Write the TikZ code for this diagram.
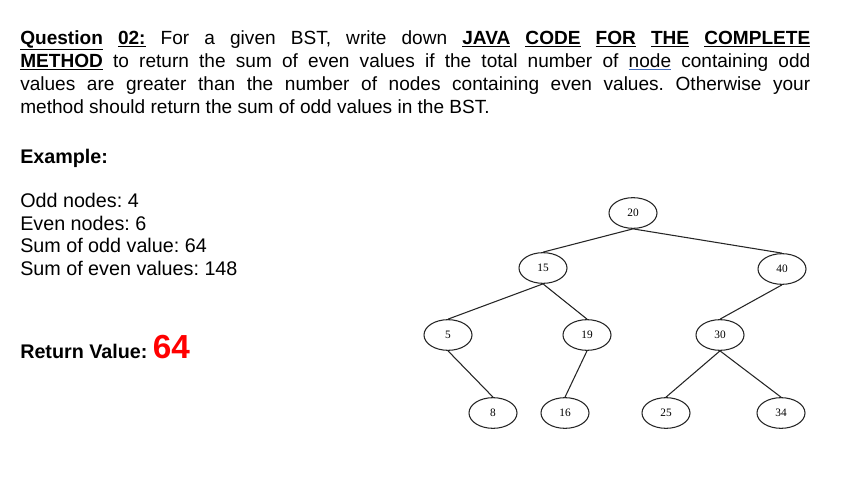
\documentclass[tikz,border=0pt]{standalone}
\usepackage{fontspec}
\setmainfont{Liberation Sans}
\newfontfamily\treefont{Liberation Serif}
\usetikzlibrary{shapes.geometric}
\definecolor{ulblue}{RGB}{70,110,190}
\frenchspacing
\begin{document}
\begin{tikzpicture}[x=0.75pt,y=-0.75pt,
  bst/.style={draw,ellipse,minimum width=36pt,minimum height=23pt,inner sep=0pt,font=\treefont\fontsize{8.5}{9}\selectfont,line width=0.8pt,draw=black!85},
  edge/.style={line width=0.8pt,draw=black!85},
  txt/.style={anchor=base west,inner sep=0pt,font=\fontsize{14.8}{16}\selectfont}]
\useasboundingbox (0,0) rectangle (842,503);
\node[anchor=north west,inner sep=0pt,text width=592.5pt,align=justify,font=\fontsize{14.3}{17.25}\selectfont] (para) at (20,30)
{\frenchspacing\textbf{\underline{Question}\ \underline{02:}} For a given BST, write down \textbf{\underline{JAVA}\ \underline{CODE}\ \underline{FOR}\ \underline{THE}\ \underline{COMPLETE}}\linebreak
\textbf{\underline{METHOD}} to return the sum of even values if the total number of {\setbox0\hbox{node}\rlap{\color{ulblue}\rule[-2.2pt]{\wd0}{0.7pt}}node} containing odd\linebreak
values are greater than the number of nodes containing even values. Otherwise your\linebreak
method should return the sum of odd values in the BST.\par};
\node[txt] (ex) at (20,163) {\textbf{Example:}};
\node[txt] (o) at (20,207) {Odd nodes: 4};
\node[txt] (e) at (20,230) {Even nodes: 6};
\node[txt] (so) at (20,252) {Sum of odd value: 64};
\node[txt] (se) at (20,275) {Sum of even values: 148};
\node[txt] (rv) at (20,358) {\textbf{Return Value:} {\color{red}\fontsize{25}{28}\selectfont\textbf{64}}};
\node[bst] (n20) at (633,213) {20};
\node[bst] (n15) at (543,268) {15};
\node[bst] (n40) at (782,269) {40};
\node[bst] (n5) at (448,335) {5};
\node[bst] (n19) at (587,335) {19};
\node[bst] (n30) at (720,335) {30};
\node[bst] (n8) at (493,413) {8};
\node[bst] (n16) at (565,413) {16};
\node[bst] (n25) at (666,413) {25};
\node[bst] (n34) at (781,413) {34};
\draw[edge] (n20.south) -- (n15.north);
\draw[edge] (n20.south) -- (n40.north);
\draw[edge] (n15.south) -- (n5.north);
\draw[edge] (n15.south) -- (n19.north);
\draw[edge] (n40.south) -- (n30.north);
\draw[edge] (n5.south) -- (n8.north);
\draw[edge] (n19.south) -- (n16.north);
\draw[edge] (n30.south) -- (n25.north);
\draw[edge] (n30.south) -- (n34.north);
\end{tikzpicture}
\end{document}
